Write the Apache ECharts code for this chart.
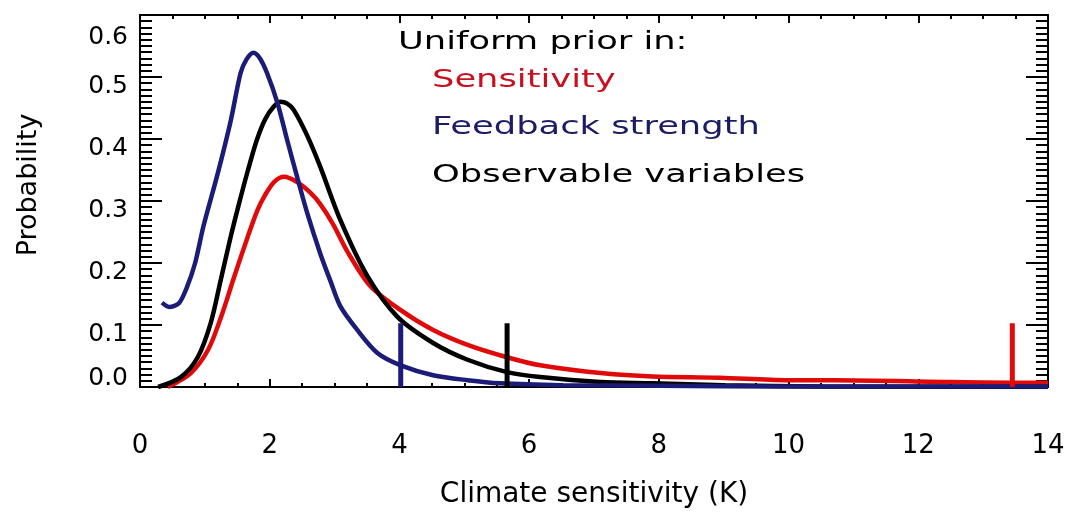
<!DOCTYPE html>
<html>
<head>
<meta charset="utf-8">
<script src="https://cdn.jsdelivr.net/npm/echarts@6/dist/echarts.min.js"></script>
<style>
    html, body { margin: 0; padding: 0; background: #fff; }
    #chart { width: 1072px; height: 515px; }
</style>
</head>
<body>
<div id="chart"></div>
<script>
// valeurs (x = sensibilite climatique en K, y = probabilite)
const sensX = [0.43, 0.78, 1.05, 1.25, 1.45, 1.66, 1.81, 1.93, 2.07, 2.22, 2.43, 2.63, 2.78, 2.98, 3.2, 3.55, 4.02, 4.52, 5.05, 5.66, 6.17, 7.14, 7.9, 8.94, 9.97, 10.7, 12.5, 13.45, 14];
const sensY = [0, 0.022, 0.06, 0.113, 0.177, 0.242, 0.285, 0.31, 0.331, 0.339, 0.33, 0.313, 0.295, 0.262, 0.218, 0.163, 0.124, 0.092, 0.068, 0.048, 0.035, 0.022, 0.017, 0.015, 0.011, 0.011, 0.008, 0.007, 0.007];

const feedX = [0.34, 0.45, 0.6, 0.72, 0.85, 0.98, 1.2, 1.4, 1.55, 1.64, 1.75, 1.85, 1.96, 2.12, 2.27, 2.43, 2.58, 2.78, 2.94, 3.09, 3.35, 3.66, 4.02, 4.52, 5.05, 5.55, 6.5, 8, 10, 14];
const feedY = [0.136, 0.129, 0.135, 0.16, 0.2, 0.26, 0.345, 0.43, 0.506, 0.528, 0.539, 0.53, 0.506, 0.458, 0.398, 0.336, 0.28, 0.215, 0.17, 0.13, 0.092, 0.055, 0.035, 0.019, 0.011, 0.006, 0.003, 0.002, 0.001, 0.001];

const obsX = [0.28, 0.63, 0.89, 1.09, 1.25, 1.4, 1.52, 1.66, 1.8, 1.93, 2.06, 2.17, 2.27, 2.37, 2.58, 2.78, 3.09, 3.5, 3.97, 4.52, 5.05, 5.66, 6.17, 7.1, 7.9, 9, 10.5, 14];
const obsY = [0, 0.016, 0.048, 0.103, 0.175, 0.243, 0.293, 0.348, 0.398, 0.432, 0.452, 0.46, 0.457, 0.447, 0.405, 0.355, 0.269, 0.18, 0.113, 0.071, 0.044, 0.024, 0.016, 0.008, 0.006, 0.003, 0.001, 0];

// barres verticales (limite haute de chaque distribution)
const markX = [13.45, 4.02, 5.66];
const markTop = [0.103, 0.103, 0.103];

const xTicks = [0, 2, 4, 6, 8, 10, 12, 14];
const yTicks = [0, 0.1, 0.2, 0.3, 0.4, 0.5, 0.6];

const seriesNames = ['Sensitivity', 'Feedback strength', 'Observable variables'];
const legendTitle = 'Uniform prior in:';

const RED = '#e00a0a';
const BLUE = '#1b1b78';
const BLACK = '#000000';
const FONT = 'DejaVu Sans';

function pairs(xs, ys) {
    return xs.map((x, i) => [x, ys[i]]);
}

var dom = document.getElementById('chart');
var myChart = echarts.init(dom, null, {
    renderer: 'canvas',
    useDirtyRect: false
});

const axisLine = { show: true, onZero: false, lineStyle: { color: '#000', width: 2 } };

function xAxisDef(position, withLabels) {
    return {
        type: 'value',
        position: position,
        min: xTicks[0],
        max: xTicks[xTicks.length - 1],
        interval: 2,
        axisLine: axisLine,
        axisTick: { show: true, inside: true, length: 8, lineStyle: { color: '#000', width: 2 } },
        minorTick: { show: true, splitNumber: 4, length: 4, lineStyle: { color: '#000', width: 2 } },
        splitLine: { show: false },
        axisLabel: {
            show: withLabels,
            margin: 46,
            color: '#000',
            fontFamily: FONT,
            fontSize: 26
        },
        name: withLabels ? 'Climate sensitivity (K)' : '',
        nameLocation: 'middle',
        nameGap: 94,
        nameTextStyle: { color: '#000', fontFamily: FONT, fontSize: 28 }
    };
}

function yAxisDef(position, withLabels) {
    const txt = { color: '#000', fontFamily: FONT, fontSize: 25 };
    return {
        type: 'value',
        position: position,
        min: yTicks[0],
        max: yTicks[yTicks.length - 1],
        interval: 0.1,
        axisLine: axisLine,
        axisTick: { show: true, inside: true, length: 22, lineStyle: { color: '#000', width: 2 } },
        minorTick: { show: true, splitNumber: 10, length: 12, lineStyle: { color: '#000', width: 2 } },
        splitLine: { show: false },
        axisLabel: {
            show: withLabels,
            margin: 12,
            color: '#000',
            fontFamily: FONT,
            fontSize: 25,
            verticalAlign: 'middle',
            // les libelles sont un peu decales par rapport aux graduations, comme sur l'original
            formatter: (v) => {
                const s = v.toFixed(1);
                if (v === 0) return '{lo|' + s + '}';
                if (Math.abs(v - 0.6) < 1e-6) return '{hi|' + s + '}';
                return '{mid|' + s + '}';
            },
            rich: {
                lo: Object.assign({ padding: [0, 0, 18, 0] }, txt),
                mid: Object.assign({ padding: [18, 0, 0, 0] }, txt),
                hi: Object.assign({ padding: [44, 0, 0, 0] }, txt)
            }
        },
        name: withLabels ? 'Probability' : '',
        nameLocation: 'middle',
        nameGap: 98,
        nameTextStyle: { color: '#000', fontFamily: FONT, fontSize: 27, padding: [0, 0, 0, 32] }
    };
}

function curve(name, xs, ys, color) {
    return {
        name: name,
        type: 'line',
        xAxisIndex: 0,
        yAxisIndex: 0,
        data: pairs(xs, ys),
        smooth: 0.3,
        showSymbol: false,
        silent: true,
        lineStyle: { color: color, width: 4.5 }
    };
}

function bar(x, top, color) {
    return {
        type: 'line',
        xAxisIndex: 0,
        yAxisIndex: 0,
        data: [[x, 0], [x, top]],
        showSymbol: false,
        silent: true,
        lineStyle: { color: color, width: 5 }
    };
}

// texte de legende elargi pour coller a la police de la figure d'origine
function label(text, left, top, color) {
    return {
        type: 'text',
        x: left,
        y: top,
        scaleX: 1.47,
        style: { text: text, fill: color, fontFamily: FONT, fontSize: 24 }
    };
}

const option = {
    animation: false,
    backgroundColor: '#fff',
    grid: { left: 140, right: 24, top: 15, bottom: 128 },
    xAxis: [xAxisDef('bottom', true), xAxisDef('top', false)],
    yAxis: [yAxisDef('left', true), yAxisDef('right', false)],
    graphic: [
        label(legendTitle, 398, 31, BLACK),
        label(seriesNames[0], 432, 69, '#c8101e'),
        label(seriesNames[1], 432, 116, '#1c1c66'),
        label(seriesNames[2], 432, 164, BLACK)
    ],
    series: [
        curve(seriesNames[0], sensX, sensY, RED),
        curve(seriesNames[2], obsX, obsY, BLACK),
        curve(seriesNames[1], feedX, feedY, BLUE),
        bar(markX[0], markTop[0], RED),
        bar(markX[1], markTop[1], BLUE),
        bar(markX[2], markTop[2], BLACK)
    ]
};

if (option && typeof option === 'object') {
    myChart.setOption(option);
}

window.addEventListener('resize', myChart.resize);
</script>
</body>
</html>
